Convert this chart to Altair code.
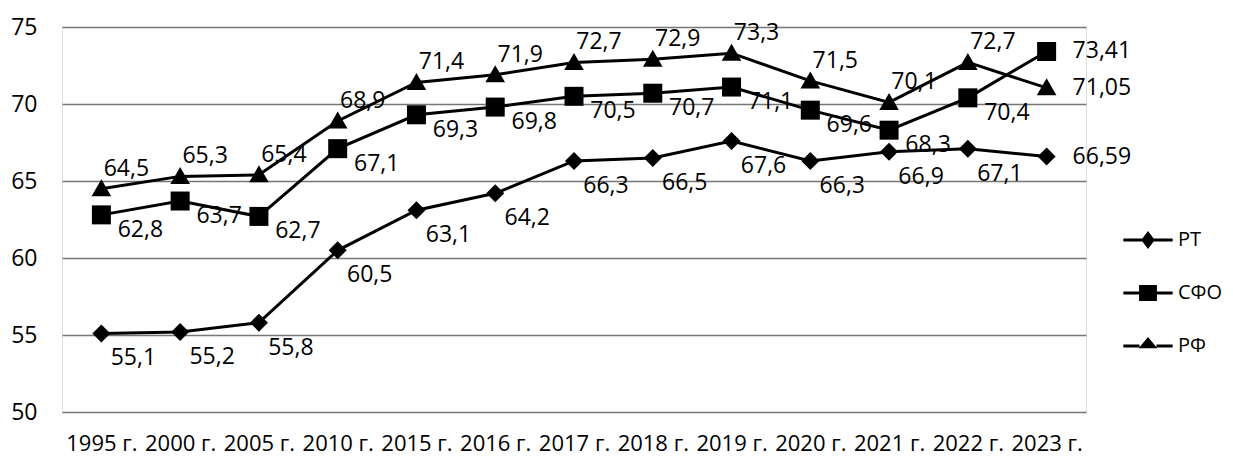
import altair as alt
import pandas as pd

years = ["1995 г.", "2000 г.", "2005 г.", "2010 г.", "2015 г.", "2016 г.", "2017 г.",
         "2018 г.", "2019 г.", "2020 г.", "2021 г.", "2022 г.", "2023 г."]
series_names = ["РТ", "СФО", "РФ"]
rt = [55.1, 55.2, 55.8, 60.5, 63.1, 64.2, 66.3, 66.5, 67.6, 66.3, 66.9, 67.1, 66.59]
sfo = [62.8, 63.7, 62.7, 67.1, 69.3, 69.8, 70.5, 70.7, 71.1, 69.6, 68.3, 70.4, 73.41]
rf = [64.5, 65.3, 65.4, 68.9, 71.4, 71.9, 72.7, 72.9, 73.3, 71.5, 70.1, 72.7, 71.05]
y_ticks = [50, 55, 60, 65, 70, 75]

rows = []
for name, vals in zip(series_names, [rt, sfo, rf]):
    for yr, v in zip(years, vals):
        rows.append({"year": yr, "series": name, "value": v})
df = pd.DataFrame(rows)

FONT = "Open Sans"
FS = 23
last_year = years[-1]

x = alt.X("year:N", sort=years, title=None,
          scale=alt.Scale(paddingOuter=0.5),
          axis=alt.Axis(labelAngle=0, labelFontSize=22, labelPadding=21, ticks=False,
                        domain=False, grid=False, labelOverlap=False, labelColor="black",
                        labelFont=FONT))
y = alt.Y("value:Q", title=None,
          scale=alt.Scale(domain=[50, 75], nice=False, zero=False),
          axis=alt.Axis(values=y_ticks, labelFontSize=FS, labelPadding=25, ticks=False,
                        domain=False, grid=True, gridColor="#767676", gridWidth=1.3,
                        labelColor="black", labelFont=FONT))

base = alt.Chart(df).encode(x=x, y=y)

lines = base.mark_line(color="black", strokeWidth=3).encode(detail="series:N")

marker_paths = [
    "M-0.9,0L0,-0.9L0.9,0L0,0.9Z",
    "M-0.95,-0.95H0.95V0.95H-0.95Z",
    "M0,-0.95L0.98,0.75H-0.98Z",
]
points = base.mark_point(filled=True, color="black", opacity=1, size=400).encode(
    shape=alt.Shape("series:N", scale=alt.Scale(domain=series_names, range=marker_paths),
                    legend=None)
)

leg_paths = [
    "M-2.9,-0.18H-0.7V0.18H-2.9Z M0.7,-0.18H2.9V0.18H0.7Z M-0.8,0L0,-1.05L0.8,0L0,1.05Z",
    "M-2.9,-0.18H-1V0.18H-2.9Z M1,-0.18H2.9V0.18H1Z M-1.05,-0.95H1.05V0.95H-1.05Z",
    "M-2.9,-0.18H-1V0.18H-2.9Z M1,-0.18H2.9V0.18H1Z M0,-1.05L1.1,0.25H-1.1Z",
]
legend_layer = alt.Chart(df).transform_filter("false").mark_point(
    filled=True, color="black", opacity=1, size=289).encode(
    x=alt.X("year:N", sort=years),
    y=alt.Y("value:Q"),
    shape=alt.Shape("series:N", scale=alt.Scale(domain=series_names, range=leg_paths),
                    legend=alt.Legend(title=None, orient="none", legendX=1076, legendY=203,
                                      labelFontSize=20, labelFont=FONT, labelColor="black",
                                      labelOffset=20, rowPadding=33, padding=0,
                                      symbolSize=289, symbolFillColor="black",
                                      symbolStrokeWidth=0))
)

lab = base.mark_text(fontSize=FS, font=FONT, color="black").encode(
    text="label:N").transform_calculate(
    label="replace(toString(datum.value), '.', ',')")

lab_rt = lab.transform_filter(
    (alt.datum.series == "РТ") & (alt.datum.year != last_year)).mark_text(
    fontSize=FS, font=FONT, color="black", dx=32, dy=25)
lab_sfo = lab.transform_filter(
    (alt.datum.series == "СФО") & (alt.datum.year != last_year)).mark_text(
    fontSize=FS, font=FONT, color="black", dx=39, dy=15)
lab_rf = lab.transform_filter(
    (alt.datum.series == "РФ") & (alt.datum.year != last_year)).mark_text(
    fontSize=FS, font=FONT, color="black", dx=25, dy=-20)
lab_last = lab.transform_filter(alt.datum.year == last_year).mark_text(
    fontSize=FS, font=FONT, color="black", align="left", dx=26, dy=0)

chart = alt.layer(lines, points, legend_layer, lab_rt, lab_sfo, lab_rf, lab_last).resolve_scale(
    shape="independent"
).properties(
    width=1024, height=385,
    autosize=alt.AutoSizeParams(type="none"),
    padding={"left": 54, "top": 19, "right": 138, "bottom": 47},
).configure_view(stroke=None).configure(background="white")

chart.save("out.html", embed_options={"renderer": "svg", "actions": False})
